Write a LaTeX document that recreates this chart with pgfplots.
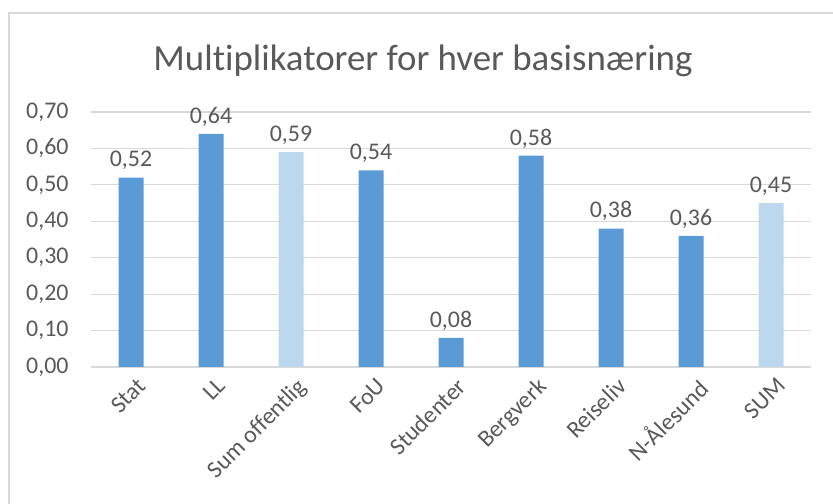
\documentclass[border=0pt]{standalone}
\usepackage{pgfplots}
\pgfplotsset{compat=1.18}
\usepackage{fontspec}
\setmainfont{Carlito}[Ligatures={NoCommon}]
\definecolor{barblue}{HTML}{5B9BD5}
\definecolor{barlight}{HTML}{BDD7EE}
\definecolor{txt}{HTML}{595959}
\definecolor{gridc}{HTML}{D9D9D9}
\begin{document}
\begin{tikzpicture}[x=1bp,y=1bp]
\path[use as bounding box] (0,0) rectangle (833,504);
\draw[gridc, line width=1.5bp] (9,0) -- (9,491) -- (833,491);
\node[txt, font=\fontsize{37}{44}\selectfont] at (423,443) {Multiplikatorer for hver basisnæring};
\begin{axis}[
  at={(91bp,137bp)}, anchor=south west,
  width=720bp, height=255bp, scale only axis,
  xmin=-0.5, xmax=8.5, ymin=0, ymax=0.7,
  ytick={0,0.1,0.2,0.3,0.4,0.5,0.6,0.7},
  xtick={0,1,2,3,4,5,6,7,8},
  xticklabels={Stat,LL,Sum offentlig,FoU,Studenter,Bergverk,Reiseliv,N-Ålesund,SUM},
  x tick label style={rotate=45, anchor=north east, font=\fontsize{24}{28}\selectfont, text=txt, inner sep=1bp, yshift=-9bp, xshift=-2bp},
  y tick label style={font=\fontsize{24}{28}\selectfont, text=txt, xshift=-19bp},
  yticklabel={\pgfmathprintnumber[fixed,fixed zerofill,precision=2,use comma,assume math mode=true]{\tick}},
  major tick length=0pt,
  axis y line*=left,
  y axis line style={draw=none},
  axis x line*=bottom,
  x axis line style={gridc, line width=1.2bp, -},
  ymajorgrids, grid style={gridc, line width=1.2bp},
  ybar, bar width=25bp, bar shift=0pt,
  nodes near coords={\pgfmathprintnumber[fixed,fixed zerofill,precision=2,use comma,assume math mode=true]{\pgfplotspointmeta}},
  nodes near coords style={font=\fontsize{24}{28}\selectfont, text=txt, yshift=4bp},
  clip=false,
]
\addplot[fill=barblue, draw=none] coordinates {(0,0.52) (1,0.64) (3,0.54) (4,0.08) (5,0.58) (6,0.38) (7,0.36)};
\addplot[fill=barlight, draw=none] coordinates {(2,0.59) (8,0.45)};
\end{axis}
\end{tikzpicture}
\end{document}
